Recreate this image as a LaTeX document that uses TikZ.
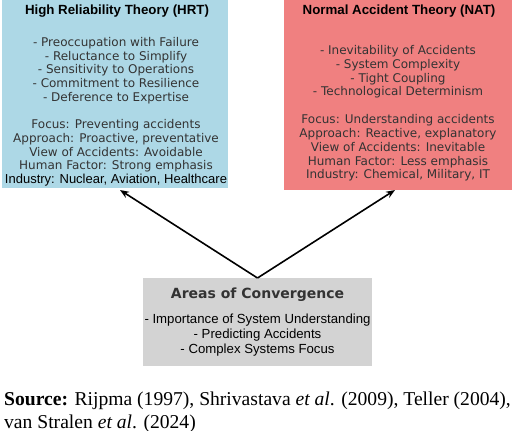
\documentclass[tikz,border=0pt]{standalone}
\usepackage{fontspec}
\setmainfont{Liberation Serif}
\newfontfamily\djv{DejaVu Sans}
\newfontfamily\lib{Liberation Sans}
\usetikzlibrary{arrows.meta}
\definecolor{hrtblue}{HTML}{ADD8E6}
\definecolor{natred}{HTML}{F08080}
\definecolor{convgray}{HTML}{D3D3D3}
\definecolor{txtgray}{HTML}{333333}
\tikzset{
  panel/.style={anchor=north west, inner sep=0pt, outer sep=0pt},
  ttl/.style={font=\lib\bfseries\fontsize{13.3}{15}\selectfont, text=black, inner sep=0pt},
  body/.style={font=\djv\fontsize{12}{13.7}\selectfont, text=txtgray, align=center, inner sep=0pt},
  conn/.style={-{Stealth[length=9pt,width=7pt]}, line width=1.6pt, black}
}
\begin{document}
\begin{tikzpicture}[x=1pt,y=-1pt]
\useasboundingbox (0,0) rectangle (520,431);
\node[panel, fill=hrtblue, minimum width=226pt, minimum height=188pt] (hrt) at (2,0) {};
\node[panel, fill=natred, minimum width=228pt, minimum height=190pt] (nat) at (284,0) {};
\node[panel, fill=convgray, minimum width=229pt, minimum height=88pt] (conv) at (143,278) {};

\node[ttl] (hrttitle) at (117,11) {High Reliability Theory (HRT)};
\node[body] (hrtlist) at (116,70.5) {- Preoccupation with Failure\\- Reluctance to Simplify\\- Sensitivity to Operations\\- Commitment to Resilience\\- Deference to Expertise};
\node[body] (hrtinfo) at (116,153) {Focus: Preventing accidents\\Approach: Proactive, preventative\\View of Accidents: Avoidable\\Human Factor: Strong emphasis\\{\lib\fontsize{13}{13.7}\selectfont\color{black}Industry: Nuclear, Aviation, Healthcare}};

\node[ttl] (nattitle) at (399,11) {Normal Accident Theory (NAT)};
\node[body] (natlist) at (398,72) {- Inevitability of Accidents\\- System Complexity\\- Tight Coupling\\- Technological Determinism};
\node[body] (natinfo) at (398,148) {Focus: Understanding accidents\\Approach: Reactive, explanatory\\View of Accidents: Inevitable\\Human Factor: Less emphasis\\Industry: Chemical, Military, IT};

\node[body, font=\djv\bfseries\fontsize{14}{16}\selectfont] (convtitle) at (257.5,295) {Areas of Convergence};
\node[body, font=\lib\fontsize{13.2}{15}\selectfont, text=black] (convlist) at (257.5,335) {- Importance of System Understanding\\- Predicting Accidents\\- Complex Systems Focus};

\coordinate (hrtend) at (120,190);
\coordinate (natend) at (395,190);
\draw[conn] (conv.north) -- (hrtend);
\draw[conn] (conv.north) -- (natend);

\node[anchor=base west, inner sep=0pt, align=left, font=\fontsize{19.6}{23}\selectfont] (src) at (4,428) {\textbf{Source:} Rijpma (1997), Shrivastava \textit{et al}. (2009), Teller (2004),\\van Stralen \textit{et al}. (2024)};
\end{tikzpicture}
\end{document}
